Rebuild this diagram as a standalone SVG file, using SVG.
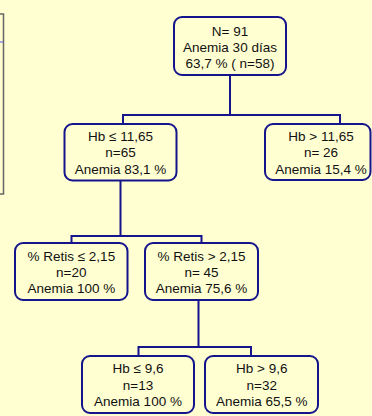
<svg xmlns="http://www.w3.org/2000/svg" width="372" height="416" viewBox="0 0 372 416">
<style>
.bg{fill:#FFFFD2}
.box{fill:#FFFFD2;stroke:#14148C;stroke-width:2}
.con{fill:none;stroke:#14148C;stroke-width:2}
text{font-family:"Liberation Sans",Arial,sans-serif;font-size:13.5px;fill:#111;text-anchor:middle}
</style>
<rect class="bg" x="0" y="0" width="372" height="416"/>
<g id="frame">
<path d="M0,14 H3.5 V194 H0" fill="none" stroke="#666" stroke-width="1.5"/>
<line x1="0" y1="42" x2="3" y2="42" stroke="#5555ee" stroke-width="1"/>
</g>
<g id="connectors">
<path class="con" d="M230,75 V115 M123,124 V115 H340 V124"/>
<path class="con" d="M120.5,180.5 V236 M71.5,243 V236 H201.5 V243"/>
<path class="con" d="M198.5,300 V347 M138.5,356 V347 H251 V356"/>
</g>
<g id="root">
<rect class="box" x="174" y="17" width="112" height="58" rx="8"/>
<text x="230" y="35.7">N= 91</text>
<text x="230" y="51.7">Anemia 30 días</text>
<text x="230" y="67.9">63,7 % ( n=58)</text>
</g>
<g id="hb_le_1165">
<rect class="box" x="64.5" y="124" width="112" height="56.5" rx="8"/>
<text x="120.5" y="141.3">Hb ≤ 11,65</text>
<text x="120.5" y="157.3">n=65</text>
<text x="120.5" y="173.5">Anemia 83,1 %</text>
</g>
<g id="hb_gt_1165">
<rect class="box" x="265" y="124" width="105.5" height="56" rx="8"/>
<text x="321" y="141.3">Hb &gt; 11,65</text>
<text x="321" y="157.3">n= 26</text>
<text x="321" y="173.5">Anemia 15,4 %</text>
</g>
<g id="retis_le">
<rect class="box" x="15" y="243" width="112.5" height="57" rx="8"/>
<text x="71.3" y="261.3">% Retis ≤ 2,15</text>
<text x="71.3" y="277.3">n=20</text>
<text x="71.3" y="293">Anemia 100 %</text>
</g>
<g id="retis_gt">
<rect class="box" x="145" y="243" width="113" height="57" rx="8"/>
<text x="201.5" y="261.3">% Retis &gt; 2,15</text>
<text x="201.5" y="277.3">n= 45</text>
<text x="201.5" y="293">Anemia 75,6 %</text>
</g>
<g id="hb_le_96">
<rect class="box" x="82" y="356" width="112" height="57" rx="8"/>
<text x="138" y="373">Hb ≤ 9,6</text>
<text x="138" y="389.5">n=13</text>
<text x="138" y="405.5">Anemia 100 %</text>
</g>
<g id="hb_gt_96">
<rect class="box" x="205" y="356" width="113" height="57" rx="8"/>
<text x="261.7" y="373">Hb &gt; 9,6</text>
<text x="261.7" y="389.5">n=32</text>
<text x="261.7" y="405.5">Anemia 65,5 %</text>
</g>
</svg>
